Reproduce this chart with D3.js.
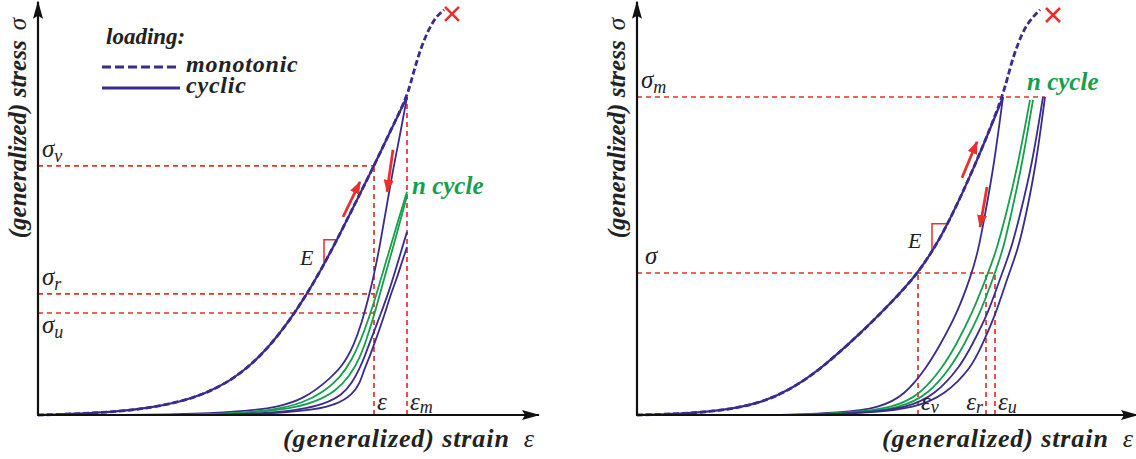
<!DOCTYPE html>
<html>
<head>
<meta charset="utf-8">
<script src="https://cdn.jsdelivr.net/npm/d3@7"></script>
<style>
  body { margin: 0; background: #fff; }
  svg { display: block; }
  text { font-family: "Liberation Serif", "Times New Roman", Times, serif; font-style: italic; }
</style>
</head>
<body>
<svg id="chart" width="1136" height="459"></svg>
<script>
/* global d3 */

// values, schematic units: [strain, stress], 0..100 on both axes

// left panel: constant max strain
const leftLoading = [[0,0],[8.4,0.3],[16.4,0.9],[22.4,1.8],[28.4,3.3],[33.4,5.3],[38.4,8.5],[42.4,12.3],
  [46.4,17.3],[50.4,23.8],[53.4,29.5],[56.4,35.8],[59.8,43.8],[63.4,52.8],[67.2,62.3],[70.4,70.8],[73.8,79.5]]
const leftMonoTail = [[74.8,84.3],[76,89.5],[77.2,93.8],[78.6,97.5],[79.8,99.8],[81.2,101.3]]
const leftCycles = [
  [[73.8,79.5],[72.4,70],[71,61.3],[69.6,51.3],[68.4,42.5],[67.2,35],[66,28.8],[64.8,23.3],[63.2,17.5],[61,12.3],[57.4,8],[53.4,4.3],[48.4,2],[40.4,0.8],[28.4,0.1],[12.4,0]],
  [[73.8,55.8],[72.2,49.3],[70.6,42.5],[69,35.8],[67.6,29.8],[66.2,24.3],[64.6,18.8],[62.8,13.8],[60.4,9.3],[57.2,5.8],[53,3],[47.4,1.3],[39.4,0.4],[28.4,0.05]],
  [[73.8,54.8],[72.4,48.3],[71,41.8],[69.6,35.8],[68.4,30.3],[67.2,24.8],[65.8,19.3],[64.4,14.3],[62.4,9.8],[59.6,6],[55.6,3.3],[50.4,1.5],[42.4,0.5],[30.4,0.05]],
  [[73.8,45.8],[72.6,40.8],[71.4,35.8],[70.2,31],[69,26.8],[67.8,22.8],[66.4,18.3],[65.4,14.8],[64.2,11.3],[62.8,8],[60.8,5],[57.4,2.8],[52.4,1.3],[45.4,0.4],[34.4,0.05]],
  [[73.8,42],[72.8,38.3],[71.8,34.3],[70.6,30.3],[69.6,26.3],[68.6,22.5],[67.4,18.3],[66.4,14.8],[65.2,11.3],[64.4,8],[62.8,5],[60,2.8],[55.4,1.3],[47.4,0.4],[36.4,0.05]]
]
const leftCycleKind = ['first', 'n', 'n', 'other', 'other']
const leftStress = [['v', 62.3, 67.2], ['r', 30.3, 67.2], ['u', 25.5, 67.2]]   // [subscript, stress, strain end]
const leftStrain = [['', 67.2, 62.3], ['m', 73.8, 79.5]]                       // [subscript, strain, stress top]
const leftArrows = [[[61,49.5],[64.4,58.3]], [[71,66.3],[69.8,55.8]]]
const leftE = [[57.2,38],[57.2,43.8],[59.8,43.8]]
const leftFail = [82.8, 100.3]

// right panel: constant max stress
const rightLoading = [[0,0],[8.6,0.3],[16.6,1],[24.6,2.9],[30.6,6.3],[36.6,11.3],[44.6,20.3],[49.6,26.5],
  [53.6,31.8],[56.6,36.3],[59.6,42],[62.6,48.8],[67.6,62.3],[73.2,79.5]]
const rightMonoTail = [[74.6,87],[76.2,93],[78,98],[80.6,101.3]]
const rightCycles = [
  [[73.2,79.5],[71.4,62.5],[69.6,50],[68.2,40.8],[66.8,34.8],[64,25.3],[60.6,17.5],[58,12],[53.6,5],[48.6,1.8],[40.6,0.5],[28.6,0]],
  [[78.6,78.8],[76.2,62.5],[73.8,50],[71.8,40.8],[70,34.8],[67,25.3],[63.8,17.5],[61.2,12],[56.6,5],[51.2,1.8],[42.6,0.5],[30.6,0]],
  [[79.2,78.8],[77,62.5],[74.8,50],[73.2,41.3],[71.4,34.8],[68.6,25.3],[65.4,17.5],[62.8,12],[58.2,5],[52.6,1.8],[44.6,0.5],[32.6,0]],
  [[81.2,79.5],[79,62.5],[76.6,50],[74.8,41.3],[72.8,34.8],[70.2,25.3],[67,17.5],[64.6,12],[59.6,5],[54,1.8],[45.6,0.5],[33.6,0]],
  [[81.6,79.5],[79.8,62.5],[77.8,50],[76.2,41.3],[74.2,34.8],[71.8,25.3],[69,17.5],[67,12],[61.6,5],[55.6,1.8],[46.6,0.5],[34.6,0]]
]
const rightCycleKind = ['first', 'n', 'n', 'other', 'other']
const rightStress = [['m', 79.5, 81.6], ['', 35.5, 71.6]]
const rightStrain = [['v', 56.2, 35.5], ['r', 69.8, 35.5], ['u', 71.6, 35.5]]
const rightArrows = [[[65,59.3],[68,68.3]], [[70,57],[68.6,47]]]
const rightE = [[59,40.8],[59,47.8],[62.2,47.8]]
const rightFail = [83.2, 100]

const legendItems = [['monotonic', 'dash'], ['cyclic', 'solid']]

// colours
const PURPLE = '#3b2b8f', GREEN = '#16a04c', RED = '#e9302c'
const kindColor = d3.scaleOrdinal().domain(['first', 'n', 'other']).range([PURPLE, GREEN, PURPLE])

const svg = d3.select('#chart')
const defs = svg.append('defs')

defs.append('marker').attr('id', 'axisHead')
  .attr('viewBox', '0 0 18 10').attr('refX', 17).attr('refY', 5)
  .attr('markerWidth', 18).attr('markerHeight', 10)
  .attr('markerUnits', 'userSpaceOnUse').attr('orient', 'auto')
  .append('path').attr('d', 'M0,0 L18,5 L0,10 L3,5 Z').attr('fill', '#111')

defs.append('marker').attr('id', 'redHead')
  .attr('viewBox', '0 0 13 10').attr('refX', 12).attr('refY', 5)
  .attr('markerWidth', 13).attr('markerHeight', 10)
  .attr('markerUnits', 'userSpaceOnUse').attr('orient', 'auto')
  .append('path').attr('d', 'M0,0 L13,5 L0,10 Z').attr('fill', RED)

let drawPanel = (x0, p) => {
  const x = d3.scaleLinear().domain([0, 100]).range([x0, x0 + 500])
  const y = d3.scaleLinear().domain([0, 100]).range([415, 15])
  const smooth = d3.line().x(d => x(d[0])).y(d => y(d[1])).curve(d3.curveBasis)
  const line = (pts) => smooth(d3.sort(pts, d => d[0]))
  const g = svg.append('g')

  // red dashed reference lines
  const ref = g.append('g').attr('stroke', RED).attr('stroke-width', 1.7)
    .attr('stroke-dasharray', '5,4').attr('fill', 'none')
  p.stress.forEach(d => {
    ref.append('line').attr('x1', x(0)).attr('x2', x(d[2])).attr('y1', y(d[1])).attr('y2', y(d[1]))
  })
  p.strain.forEach(d => {
    ref.append('line').attr('x1', x(d[1])).attr('x2', x(d[1])).attr('y1', y(0)).attr('y2', y(d[2]))
  })

  // stiffness triangle
  g.append('path').attr('d', d3.line().x(d => x(d[0])).y(d => y(d[1]))(p.E))
    .attr('fill', 'none').attr('stroke', RED).attr('stroke-width', 1.5)

  // unloading / reloading branches
  g.selectAll('path.cycle').data(p.cycles).enter()
    .append('path').attr('class', 'cycle')
    .attr('d', line)
    .attr('fill', 'none')
    .attr('stroke', (d, i) => kindColor(p.kind[i]))
    .attr('stroke-width', 1.8)

  // cyclic loading branch + monotonic curve
  g.append('path').attr('d', line(p.loading))
    .attr('fill', 'none').attr('stroke', PURPLE).attr('stroke-width', 2.2)
  g.append('path').attr('d', line(p.loading.concat(p.tail)))
    .attr('fill', 'none').attr('stroke', PURPLE).attr('stroke-width', 2.8)
    .attr('stroke-dasharray', '6,3')

  // failure mark
  const fx = x(p.fail[0]), fy = y(p.fail[1])
  g.append('path').attr('d', `M${fx - 7},${fy - 7}L${fx + 7},${fy + 7}M${fx - 7},${fy + 7}L${fx + 7},${fy - 7}`)
    .attr('stroke', RED).attr('stroke-width', 2.6)

  // red direction arrows
  p.arrows.forEach(a => {
    g.append('line').attr('x1', x(a[0][0])).attr('y1', y(a[0][1]))
      .attr('x2', x(a[1][0])).attr('y2', y(a[1][1]))
      .attr('stroke', RED).attr('stroke-width', 2.8).attr('marker-end', 'url(#redHead)')
  })

  // axes
  g.append('line').attr('x1', x(0)).attr('y1', y(0)).attr('x2', x(0)).attr('y2', y(103.3))
    .attr('stroke', '#111').attr('stroke-width', 2.2).attr('marker-end', 'url(#axisHead)')
  g.append('line').attr('x1', x(0) - 1).attr('y1', y(0)).attr('x2', x(100.2)).attr('y2', y(0))
    .attr('stroke', '#111').attr('stroke-width', 2.2).attr('marker-end', 'url(#axisHead)')

  // stress labels on the axis
  p.stress.forEach((d, i) => {
    const below = p.stressBelow[i]
    const t = g.append('text').attr('x', x(0) + p.stressDx[i]).attr('y', y(d[1]) + (below ? 20 : -9))
      .attr('font-size', 25).attr('fill', '#222')
    t.append('tspan').text('σ')
    if (d[0]) t.append('tspan').attr('font-size', 18).attr('dy', 5).text(d[0])
  })
  // strain labels at the foot of the lines
  p.strain.forEach((d, i) => {
    const left = p.strainLeft[i]
    const t = g.append('text').attr('x', x(d[1]) + (left ? -3 : 3)).attr('y', y(0) - 5)
      .attr('font-size', 25).attr('fill', '#222').attr('text-anchor', left ? 'end' : 'start')
    t.append('tspan').text('ε')
    if (d[0]) t.append('tspan').attr('font-size', 18).attr('dy', 3).text(d[0])
    else t.append('tspan').text('\u00a0')
  })

  g.append('text').attr('x', x(p.E[0][0]) - 24).attr('y', y(p.E[0][1]) - p.eDy)
    .attr('font-size', 22).attr('fill', '#222').text('E')

  const gTop = p.cycles[p.kind.indexOf('n')][0]
  g.append('text').attr('x', x(gTop[0]) + p.nDx).attr('y', y(gTop[1]) + p.nDy)
    .attr('font-size', 25).attr('font-weight', 'bold').attr('fill', GREEN).text('n cycle')

  // axis titles
  const yt = g.append('text').attr('transform', `translate(${x(0) - 12},18) rotate(-90)`)
    .attr('text-anchor', 'end').attr('font-size', 25).attr('fill', '#222')
  yt.append('tspan').attr('font-weight', 'bold').text('(generalized) stress')
  yt.append('tspan').attr('dx', 10).text('σ')

  const xt = g.append('text').attr('x', x(99.2)).attr('y', 447)
    .attr('text-anchor', 'end').attr('font-size', 26).attr('fill', '#222')
  xt.append('tspan').attr('font-weight', 'bold').attr('letter-spacing', 0.9).text('(generalized) strain')
  xt.append('tspan').attr('dx', 14).text('ε')
}

drawPanel(38, {
  loading: leftLoading, tail: leftMonoTail, cycles: leftCycles, kind: leftCycleKind,
  stress: leftStress, strain: leftStrain, arrows: leftArrows, E: leftE, fail: leftFail,
  stressBelow: [false, false, true], stressDx: [4, 4, 4], strainLeft: [false, false],
  eDy: -2, nDx: 5, nDy: 2
})
drawPanel(637, {
  loading: rightLoading, tail: rightMonoTail, cycles: rightCycles, kind: rightCycleKind,
  stress: rightStress, strain: rightStrain, arrows: rightArrows, E: rightE, fail: rightFail,
  stressBelow: [false, false], stressDx: [4, 8], strainLeft: [false, true, false],
  eDy: 4, nDx: -3, nDy: -10
})

// legend
const lg = svg.append('g')
lg.append('text').attr('x', 106).attr('y', 44).attr('font-size', 23)
  .attr('font-weight', 'bold').attr('fill', '#222').text('loading:')
legendItems.forEach((d, i) => {
  const yy = 67 + i * 21
  lg.append('line').attr('x1', 102).attr('x2', 180).attr('y1', yy).attr('y2', yy)
    .attr('stroke', PURPLE).attr('stroke-width', 3)
    .attr('stroke-dasharray', d[1] === 'dash' ? '9,4' : null)
  lg.append('text').attr('x', 186).attr('y', yy + 5).attr('font-size', 24)
    .attr('font-weight', 'bold').attr('letter-spacing', 0.8).attr('fill', '#222').text(d[0])
})
</script>
</body>
</html>
